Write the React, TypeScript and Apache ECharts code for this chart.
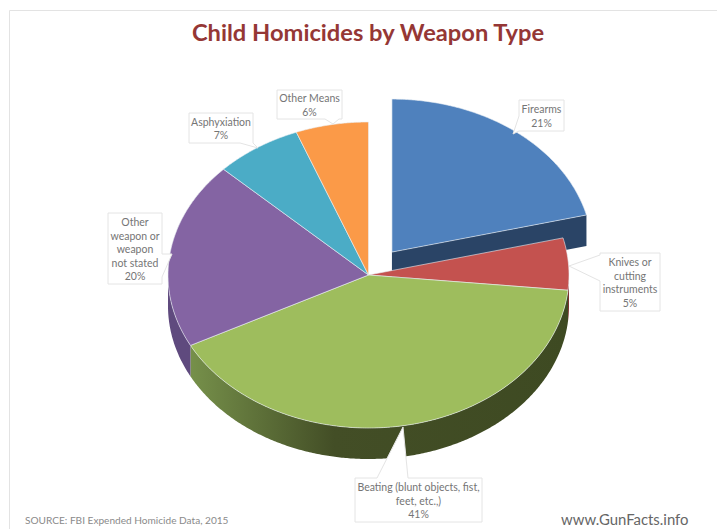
import React, { useEffect, useRef } from "react";
import * as echarts from "echarts";

const categories = [
  "Firearms",
  "Knives or\ncutting\ninstruments",
  "Beating (blunt objects, fist,\nfeet, etc.,)",
  "Other\nweapon or\nweapon\nnot stated",
  "Asphyxiation",
  "Other Means",
];
const shares = [21.1, 5.49, 40.8, 19.75, 7.0, 5.86];
const percentLabels = ["21%", "5%", "41%", "20%", "7%", "6%"];
const topColors = ["#4f81bd", "#c4524f", "#9ebd5d", "#8464a3", "#4bacc6", "#fb9a48"];
const sideColors: any[] = [
  "#2a4466",
  "#7d3331",
  [[0, "#76904a"], [0.38, "#434e26"], [1, "#3e4a22"]],
  "#5f4a7e",
  "#2c6a7b",
  "#a85f24",
];

// Layout of the tilted pie and the data-label callouts
const CX = 368.5, CY = 275, RX = 200.5, RY = 153, DEPTH = 31, EXPLODE = 0.19;
const explodedIndex = 0;
const labelBoxes = [
  { x: 519, y: 100, w: 45, h: 31, tip: [513, 134], anchor: [[519, 131], [519, 116]], side: "left" },
  { x: 600, y: 253, w: 60, h: 58, tip: [569, 266], anchor: [[600, 281], [600, 255]], side: "left" },
  { x: 355, y: 478, w: 127, h: 44, tip: [403, 427], anchor: [[377, 478], [408, 478]], side: "top" },
  { x: 108, y: 213, w: 54, h: 71, tip: [172, 254], anchor: [[162, 254], [162, 277]], side: "right" },
  { x: 189, y: 113, w: 64, h: 30, tip: [258, 148], anchor: [[253, 143], [240, 143]], side: "bottom" },
  { x: 277, y: 90, w: 65, h: 29, tip: [333, 124], anchor: [[339, 119], [325, 119]], side: "bottom" },
];

const rad = (d: number) => (d * Math.PI) / 180;
const total = shares.reduce((a, b) => a + b, 0);
const sweep = (i: number) => {
  let start = 0;
  for (let k = 0; k < i; k++) start += (shares[k] / total) * 360;
  return [start, start + (shares[i] / total) * 360];
};
const centerOf = (i: number) => {
  if (i !== explodedIndex) return [CX, CY];
  const [a, b] = sweep(i);
  const m = rad((a + b) / 2);
  return [CX + EXPLODE * RX * Math.sin(m), CY - EXPLODE * RY * Math.cos(m)];
};
const rim = (c: number[], t: number, dy = 0) => [
  c[0] + RX * Math.sin(rad(t)),
  c[1] - RY * Math.cos(rad(t)) + dy,
];
const arc = (c: number[], a: number, b: number, dy = 0) => {
  const pts: number[][] = [];
  const n = Math.max(2, Math.ceil((b - a) * 2));
  for (let i = 0; i <= n; i++) pts.push(rim(c, a + ((b - a) * i) / n, dy));
  return pts;
};
const fillOf = (v: any) =>
  Array.isArray(v)
    ? new echarts.graphic.LinearGradient(0, 0, 1, 0, v.map(([offset, color]: any) => ({ offset, color })))
    : v;

const renderSlice = (params: any) => {
  const i = params.dataIndex;
  const [a, b] = sweep(i);
  const c = centerOf(i);
  const children: any[] = [];
  if (i === explodedIndex) {
    const e = rim(c, b);
    children.push({
      type: "polygon",
      shape: { points: [c, e, [e[0], e[1] + DEPTH], [c[0], c[1] + DEPTH]] },
      style: { fill: fillOf(sideColors[i]) },
    });
  }
  const lo = Math.max(a, 90), hi = Math.min(b, 270);
  if (hi > lo && i !== explodedIndex) {
    children.push({
      type: "polygon",
      shape: { points: [...arc(c, lo, hi), ...arc(c, lo, hi, DEPTH).reverse()] },
      style: { fill: fillOf(sideColors[i]) },
    });
  }
  children.push({
    type: "polygon",
    shape: { points: [c, ...arc(c, a, b)] },
    style: { fill: topColors[i], stroke: "rgba(235,240,245,0.75)", lineWidth: 0.8, lineJoin: "round" },
  });
  return { type: "group", children };
};

const renderLabel = (params: any) => {
  const i = params.dataIndex;
  const b = labelBoxes[i];
  const [p, q] = b.anchor;
  const tl = [b.x, b.y], tr = [b.x + b.w, b.y], br = [b.x + b.w, b.y + b.h], bl = [b.x, b.y + b.h];
  let pts: number[][];
  if (b.side === "left") pts = [tl, tr, br, bl, p, b.tip, q];
  else if (b.side === "top") pts = [tl, p, b.tip, q, tr, br, bl];
  else if (b.side === "right") pts = [tl, tr, p, b.tip, q, br, bl];
  else pts = [tl, tr, br, p, b.tip, q, bl];
  return {
    type: "group",
    children: [
      { type: "polygon", shape: { points: pts }, style: { fill: "#ffffff", stroke: "#e4e4e4", lineWidth: 1 } },
      {
        type: "text",
        x: b.x + b.w / 2,
        y: b.y + b.h / 2 + 0.5,
        style: {
          text: categories[i] + "\n" + percentLabels[i],
          fill: "#757575",
          font: "10.5px Lato",
          align: "center",
          verticalAlign: "middle",
          lineHeight: 13.5,
        },
      },
    ],
  };
};

export default function App() {
  const ref = useRef<HTMLDivElement>(null);
  useEffect(() => {
    document.body.style.margin = "0";
    const chart = echarts.init(ref.current!, null, { renderer: "svg" });
    const data = categories.map((name, i) => ({ name, value: shares[i] }));
    chart.setOption({
      animation: false,
      backgroundColor: "#ffffff",
      title: {
        text: "Child Homicides by Weapon Type",
        left: 363,
        top: 15,
        textAlign: "center",
        textStyle: { fontFamily: "Lato", fontWeight: "bold", fontSize: 23.7, color: "#953735" },
      },
      graphic: [
        { type: "line", silent: true, shape: { x1: 9.5, y1: 10.5, x2: 717, y2: 10.5 }, style: { stroke: "#e3e3e3", lineWidth: 1 } },
        { type: "line", silent: true, shape: { x1: 9.5, y1: 10.5, x2: 9.5, y2: 529 }, style: { stroke: "#e3e3e3", lineWidth: 1 } },
        { type: "text", x: 25, y: 515, style: { text: "SOURCE: FBI Expended Homicide Data, 2015", fill: "#8a8a8a", font: "10.1px Lato" } },
        { type: "text", x: 561, y: 511, style: { text: "www.GunFacts.info", fill: "#666666", font: "14.9px Lato" } },
      ],
      series: [
        { type: "custom", coordinateSystem: "none", renderItem: renderSlice, data, silent: true, z: 2 },
        { type: "custom", coordinateSystem: "none", renderItem: renderLabel, data, silent: true, z: 3 },
      ],
    });
    return () => chart.dispose();
  }, []);
  return <div ref={ref} style={{ width: 717, height: 529 }} />;
}
